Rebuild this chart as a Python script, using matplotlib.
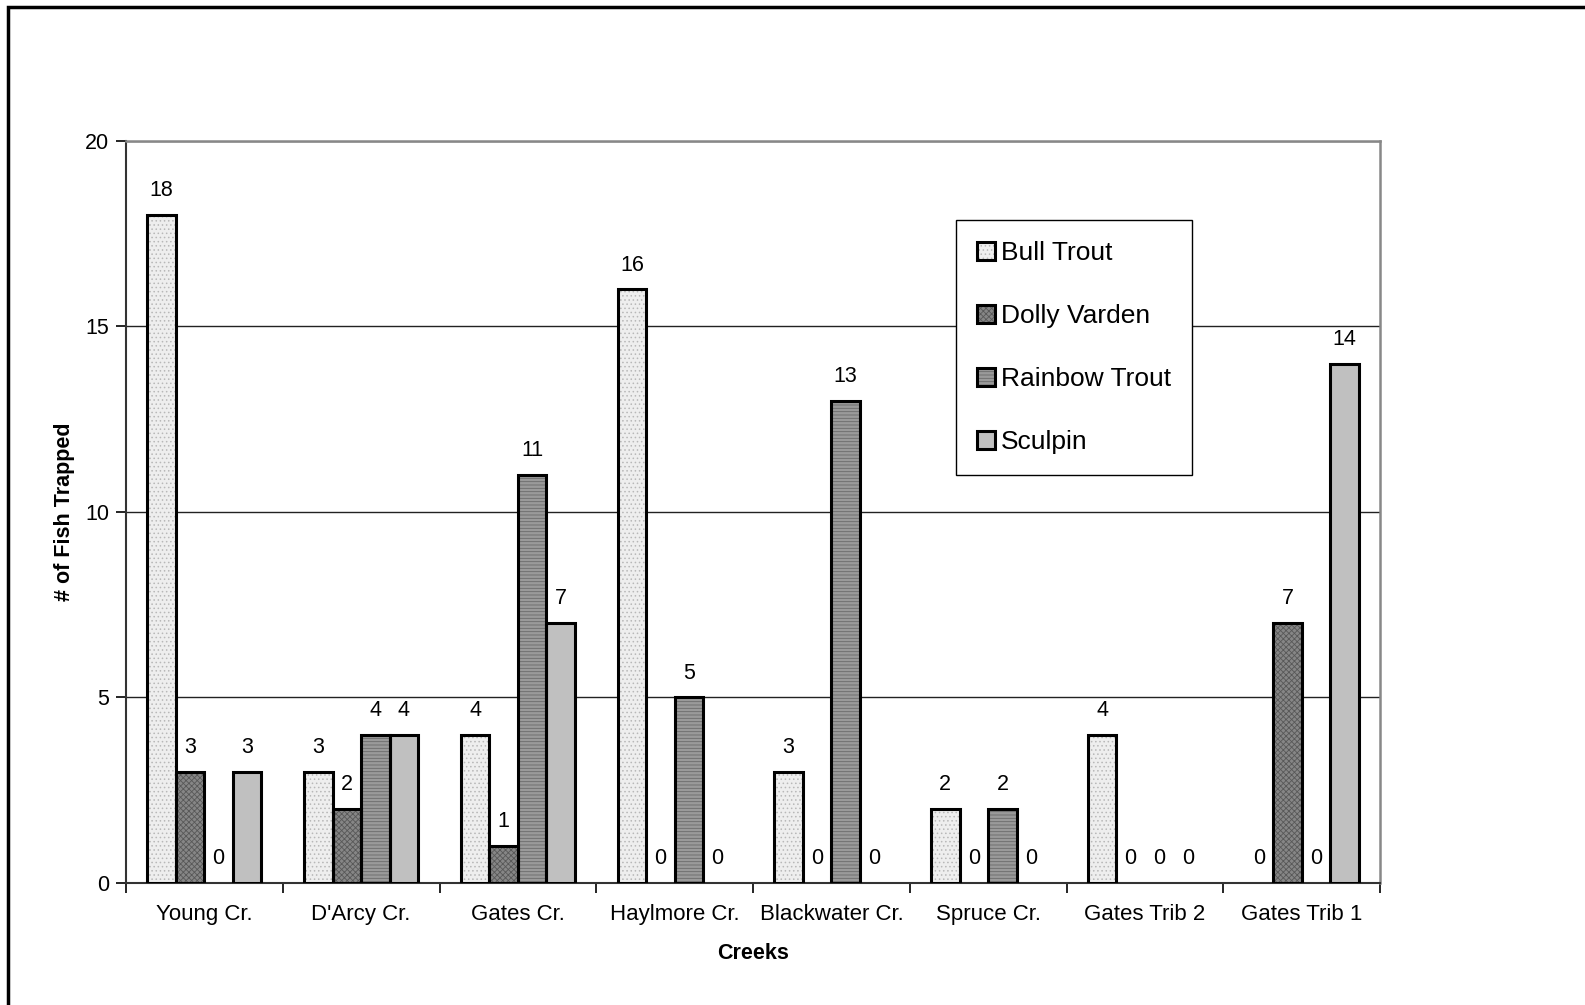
import numpy as np
import matplotlib
matplotlib.use("Agg")
import matplotlib.pyplot as plt
from matplotlib.patches import Rectangle

# fish trap counts per creek
creeks = ["Young Cr.", "D'Arcy Cr.", "Gates Cr.", "Haylmore Cr.",
          "Blackwater Cr.", "Spruce Cr.", "Gates Trib 2", "Gates Trib 1"]
bull_trout = [18, 3, 4, 16, 3, 2, 4, 0]
dolly_varden = [3, 2, 1, 0, 0, 0, 0, 7]
rainbow_trout = [0, 4, 11, 5, 13, 2, 0, 0]
sculpin = [3, 4, 7, 0, 0, 0, 0, 14]

series = [
    # name, values, fill, hatch, hatch colour
    ("Bull Trout", bull_trout, "#eeeeee", "....", "#b8b8b8"),
    ("Dolly Varden", dolly_varden, "#868686", "xxxxxx", "#585858"),
    ("Rainbow Trout", rainbow_trout, "#9a9a9a", "-----", "#6a6a6a"),
    ("Sculpin", sculpin, "#c0c0c0", None, None),
]

plt.rcParams["font.family"] = ["Liberation Sans", "DejaVu Sans"]
plt.rcParams["hatch.linewidth"] = 0.6

fig = plt.figure(figsize=(15.85, 10.05), dpi=100)
ax = fig.add_axes([0.0795, 0.1214, 0.7912, 0.7383])

x = np.arange(len(creeks))
width = 0.182
offsets = (np.arange(4) - 1.5) * width

handles = []
for (name, vals, fill, hatch, hcol), off in zip(series, offsets):
    hc = hcol if hcol else fill
    base = ax.bar(x + off, vals, width, color=fill, hatch=hatch,
                  edgecolor=hc, linewidth=0, zorder=3)
    outline = ax.bar(x + off, vals, width, fill=False, edgecolor="black",
                     linewidth=2.2, zorder=4)
    # empty bars leave no mark on the baseline
    for b, o, v in zip(base, outline, vals):
        if v == 0:
            b.set_visible(False)
            o.set_visible(False)
    for xi, v in zip(x + off, vals):
        ax.annotate(str(v), (xi, v), xytext=(0, 10), textcoords="offset points",
                    ha="center", va="bottom", fontsize=15.5)
    handles.append((Rectangle((0, 0), 1, 1, facecolor=fill, hatch=hatch,
                              edgecolor=hc, linewidth=0),
                    Rectangle((0, 0), 1, 1, fill=False, edgecolor="black",
                              linewidth=2.2)))

ax.set_xlim(-0.5, len(creeks) - 0.5)
ax.set_ylim(0, 20)
ax.set_yticks([0, 5, 10, 15, 20])
ax.tick_params(axis="y", labelsize=15.5, length=7, width=1.2, pad=5)
ax.set_xticks(x)
ax.set_xticklabels(creeks, fontsize=16)
ax.tick_params(axis="x", length=0, pad=15)
ax.set_xticks(np.arange(len(creeks) + 1) - 0.5, minor=True)
ax.tick_params(axis="x", which="minor", length=7, width=1.2)

ax.yaxis.grid(True, color="#222222", linewidth=1.0, zorder=0)
ax.set_axisbelow(True)
for side in ["left", "bottom"]:
    ax.spines[side].set_color("#333333")
    ax.spines[side].set_linewidth(1.5)
for side in ["top", "right"]:
    ax.spines[side].set_color("#888888")
    ax.spines[side].set_linewidth(1.8)

ax.set_xlabel("Creeks", fontsize=15.5, fontweight="bold", labelpad=13)
ax.set_ylabel("# of Fish Trapped", fontsize=15.5, fontweight="bold", labelpad=7)

leg = ax.legend(handles, [s[0] for s in series], loc="upper left",
                bbox_to_anchor=(0.662, 0.8935), fontsize=19,
                frameon=True, fancybox=False, edgecolor="black", framealpha=1,
                handlelength=0.66, handleheight=0.66, handletextpad=0.22,
                labelspacing=1.48, borderpad=0.8, borderaxespad=0)
leg.get_frame().set_linewidth(1.0)
leg.get_frame().set_facecolor("white")
leg.set_zorder(5)

# outer chart border (runs off the right and bottom edges)
fig.patches.append(Rectangle((8 / 1585, -0.1), 1.2, 1.1 - 7 / 1005,
                             transform=fig.transFigure, fill=False,
                             edgecolor="black", linewidth=2.5))

fig.savefig("out.png", dpi=100)
